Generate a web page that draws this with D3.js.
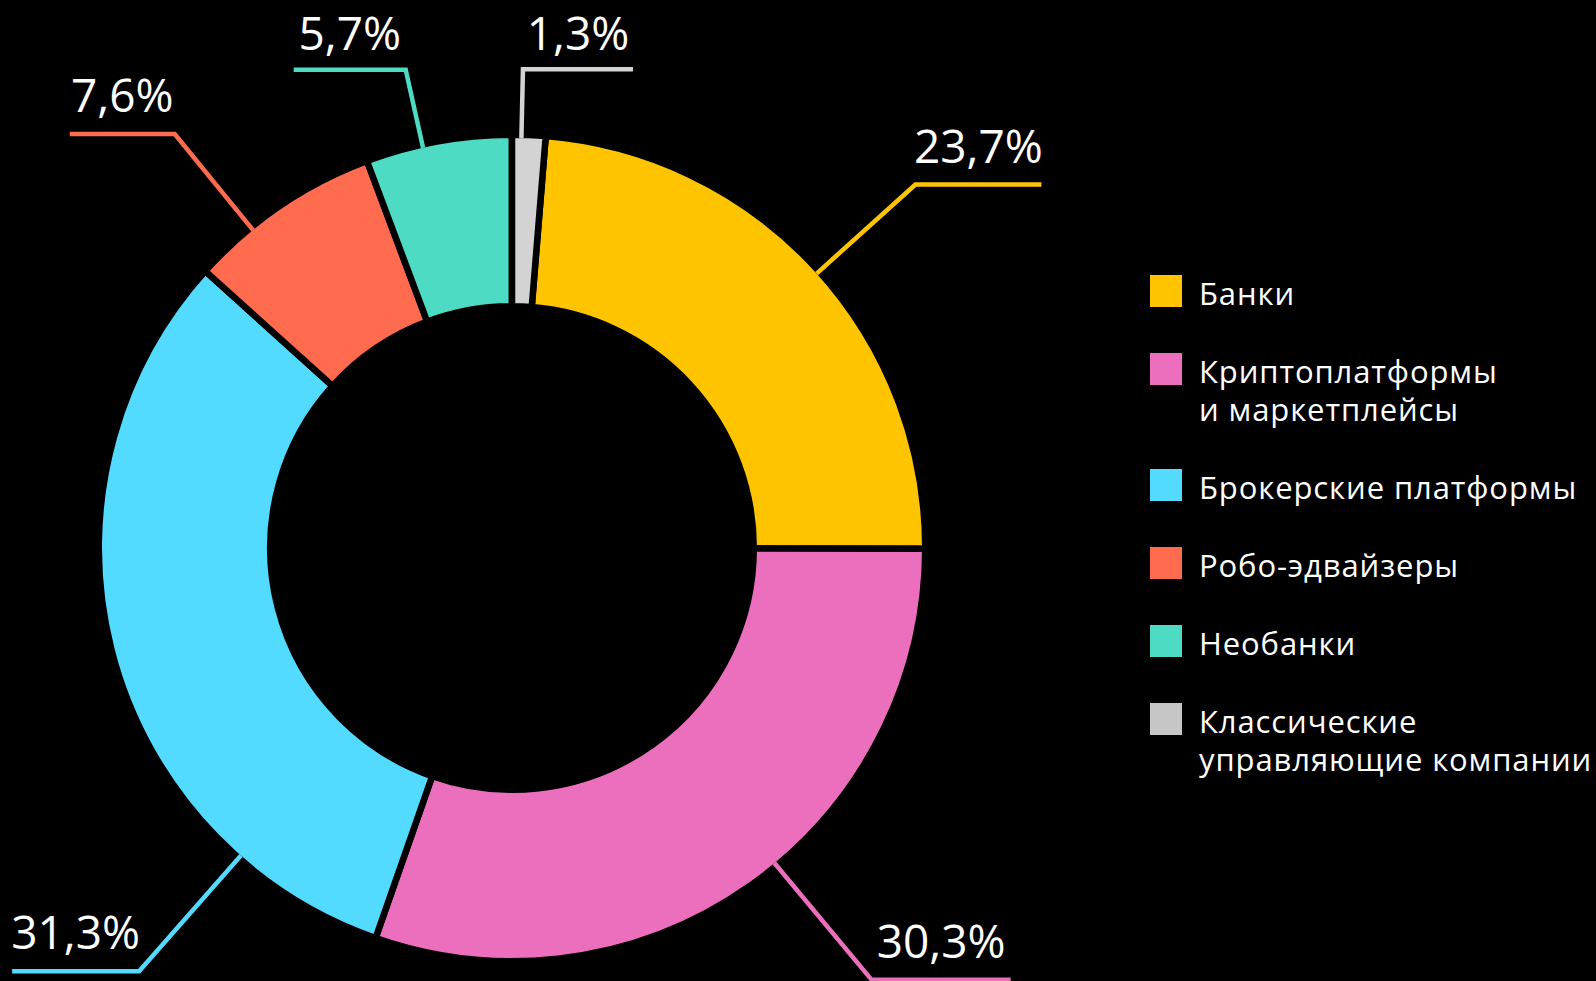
<!DOCTYPE html>
<html><head><meta charset="utf-8">
<script src="https://cdn.jsdelivr.net/npm/d3@7"></script>
<style>html,body{margin:0;padding:0;background:#000;overflow:hidden} svg{display:block}</style>
</head><body>
<script>
// ---- data ----
const categories = ["Банки", "Криптоплатформы и маркетплейсы", "Брокерские платформы", "Робо-эдвайзеры", "Необанки", "Классические управляющие компании"];
const legendLines = [["Банки"], ["Криптоплатформы", "и маркетплейсы"], ["Брокерские платформы"], ["Робо-эдвайзеры"], ["Необанки"], ["Классические", "управляющие компании"]];
const values = [23.7, 30.3, 31.3, 7.6, 5.7, 1.3];
const colors = ["#FFC400", "#EB6FBC", "#52DBFF", "#FF6B4F", "#4DDBC4", "#D3D3D3"];
const legendColors = ["#FFC400", "#EB6FBC", "#52DBFF", "#FF6B4F", "#4DDBC4", "#C6C6C6"];

// ---- leader-line layout (not data) ----
const leaderFrac = [0.507, 0.459, 0.196, 0.32, 0.39, 0.28];
const leaderElbowR = [543, 562, 564, 534, 490, 479];
const leaderHLen = [126, 139, 127, 105, 112, 110];

const W = 1596, H = 981;
const cx = 512, cy = 548, R = 410, r0 = 245, gap = 6.5;

const locale = d3.formatLocale({decimal: ",", thousands: " ", grouping: [3], currency: ["", ""]});
const fmt = v => locale.format(".1f")(v) + "%";

const svg = d3.select("body").append("svg").attr("width", W).attr("height", H)
  .style("background", "#000");

const total = d3.sum(values);
const a0 = 2 * Math.PI * values[values.length - 1] / total;
const pie = d3.pie().sort(null).value(d => d).startAngle(a0).endAngle(a0 + 2 * Math.PI);
const arcs = pie(values);
const arc = d3.arc().innerRadius(r0 - gap / 2).outerRadius(R + gap / 2);

const g = svg.append("g").attr("transform", `translate(${cx},${cy})`);
g.selectAll("path.slice").data(arcs).join("path")
  .attr("class", "slice")
  .attr("d", arc)
  .attr("fill", (d, i) => colors[i])
  .attr("stroke", "#000")
  .attr("stroke-width", gap)
  .attr("stroke-linejoin", "miter");

// leader lines + labels
const lab = g.selectAll("g.lab").data(arcs).join("g").attr("class", "lab");
lab.each(function(d, i) {
  const th = d.startAngle + leaderFrac[i] * (d.endAngle - d.startAngle);
  const sx = R * Math.sin(th), sy = -R * Math.cos(th);
  const ex = leaderElbowR[i] * Math.sin(th), ey = -leaderElbowR[i] * Math.cos(th);
  const dir = Math.sin(th) >= 0 ? 1 : -1;
  const hx = ex + dir * leaderHLen[i];
  const sel = d3.select(this);
  sel.append("path")
    .attr("d", d3.line()([[sx, sy], [ex, ey], [hx, ey]]))
    .attr("fill", "none")
    .attr("stroke", colors[i])
    .attr("stroke-width", 4.5)
    .attr("stroke-linejoin", "miter");
  sel.append("text")
    .attr("x", (ex + hx) / 2)
    .attr("y", Math.max(ey - 22, 50 - cy))
    .attr("text-anchor", "middle")
    .attr("fill", "#fff")
    .attr("font-family", "'Open Sans', sans-serif")
    .attr("font-size", 46)
    .text(fmt(d.data));
});

// legend
const legX = 1150, legY = 275, sq = 32, rowGap = 78, lineH = 38;
let yy = legY;
const leg = svg.append("g");
categories.forEach((c, i) => {
  const item = leg.append("g").attr("transform", `translate(${legX},${yy})`);
  item.append("rect").attr("width", sq).attr("height", sq).attr("fill", legendColors[i]);
  const t = item.append("text")
    .attr("x", 49).attr("y", 30)
    .attr("fill", "#fff")
    .attr("font-family", "'Open Sans', sans-serif")
    .attr("font-size", 31)
    .attr("letter-spacing", 0.9);
  legendLines[i].forEach((ln, k) => {
    t.append("tspan").attr("x", 49).attr("y", 30 + k * lineH).text(ln);
  });
  yy += rowGap + (legendLines[i].length - 1) * lineH;
});
</script>
</body></html>
